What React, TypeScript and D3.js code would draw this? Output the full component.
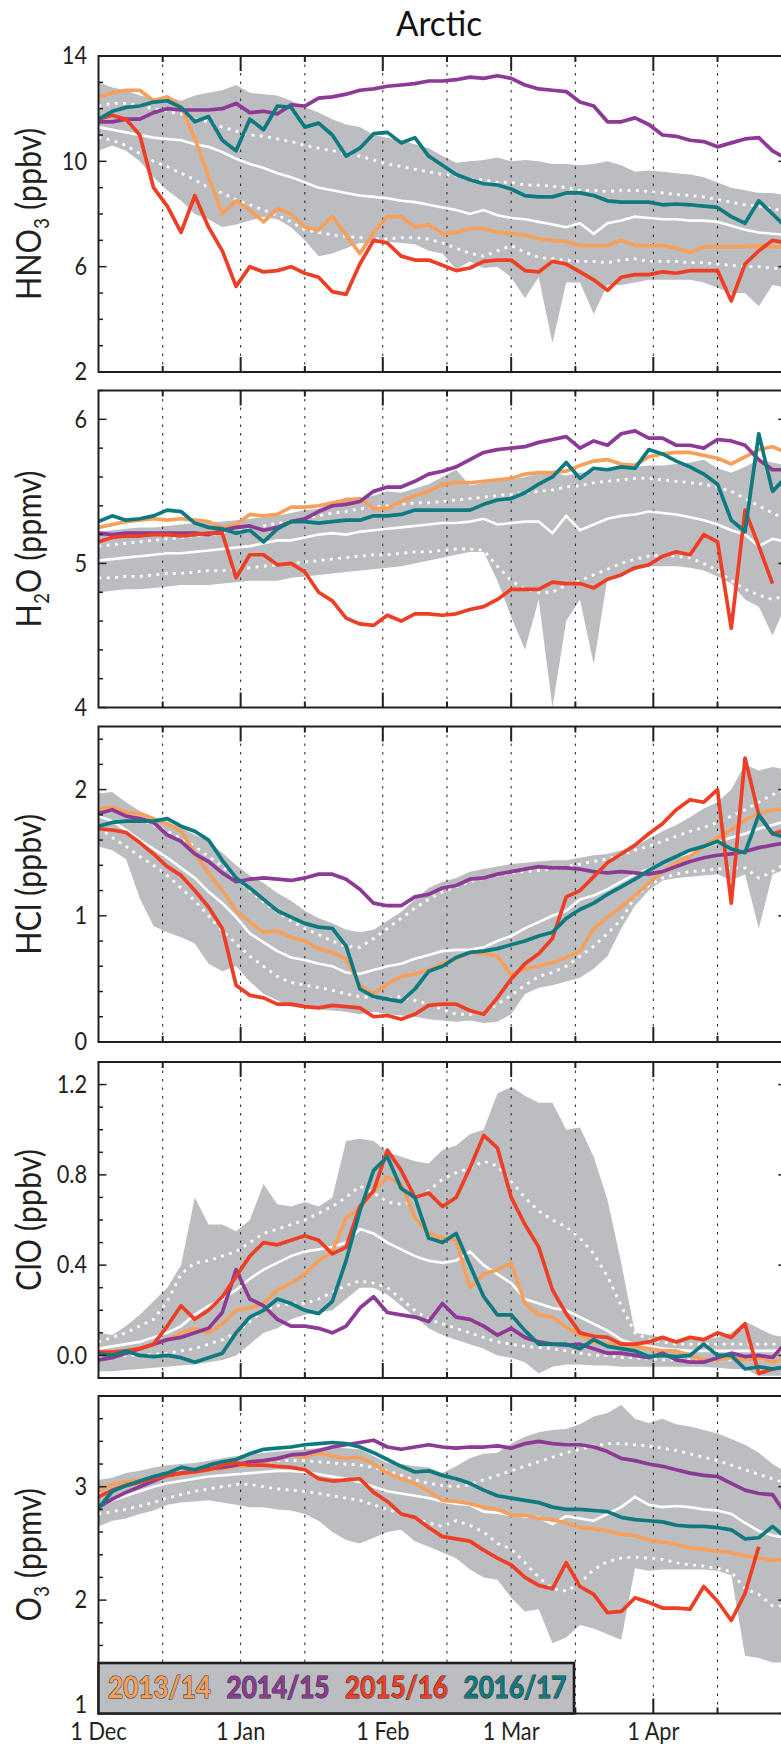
import React from 'react';
import * as d3 from 'd3';

// x grid: days since 1 Dec, every 3 days
const DAYS = [0,3,6,9,12,15,18,21,24,27,30,33,36,39,42,45,48,51,54,57,60,63,66,69,72,75,78,81,84,87,90,93,96,99,102,105,108,111,114,117,120,123,126,129,132,135,138,141,144,147,150];

const MONTH_DAYS = [0, 31, 62, 90, 121];
const MONTH_LABELS = ['1 Dec', '1 Jan', '1 Feb', '1 Mar', '1 Apr'];
const MID_DAYS = [14, 45, 76, 104, 135];

const YEARS = ['2013/14', '2014/15', '2015/16', '2016/17'];
const YEAR_COLORS = ['#f7a05c', '#8d3a96', '#ee3f26', '#0e7a80'];

// ---- HNO3 (ppbv)
const HNO3_1314 = [12.45,12.6,12.7,12.7,12.3,12.45,12.07,10.87,9.4,8.0,8.5,8.15,7.7,8.2,8.0,7.5,7.4,7.9,7.2,6.5,7.3,7.9,7.9,7.5,7.6,7.25,7.3,7.45,7.45,7.3,7.25,7.2,7.05,7.0,6.95,6.8,6.8,6.8,7.0,6.8,6.8,6.8,6.7,6.55,6.75,6.75,6.75,6.75,6.8,6.75,6.75];
const HNO3_1415 = [11.5,11.5,11.6,11.6,11.85,12.0,11.95,11.95,11.95,12.0,12.2,11.85,11.9,11.8,12.15,12.1,12.4,12.45,12.55,12.7,12.75,12.85,12.9,12.95,13.05,13.05,13.1,13.2,13.15,13.25,13.15,12.9,12.75,12.7,12.65,12.25,12.1,11.5,11.5,11.65,11.4,11.0,10.95,10.8,10.75,10.55,10.7,10.85,10.9,10.4,10.1];
const HNO3_1516 = [11.6,11.75,11.6,11.0,9.0,8.3,7.3,8.7,7.5,6.6,5.25,6.0,5.8,5.85,6.0,5.75,5.6,5.05,4.95,6.1,7.0,6.9,6.4,6.25,6.25,6.05,5.85,5.95,6.2,6.25,6.25,5.85,5.8,6.2,6.1,5.8,5.5,5.1,5.6,5.7,5.7,5.8,5.75,5.85,5.85,5.85,4.7,6.1,6.6,7.0,6.9];
const HNO3_1617 = [11.6,11.9,12.05,12.1,12.25,12.3,12.05,11.5,11.7,10.8,10.4,11.6,11.2,12.1,12.05,11.3,11.45,11.0,10.2,10.5,11.05,11.1,10.7,10.9,10.2,9.85,9.5,9.3,9.15,9.1,8.95,8.7,8.65,8.65,8.8,8.8,8.7,8.5,8.45,8.45,8.45,8.35,8.38,8.35,8.3,8.25,7.9,7.65,8.5,8.0,7.5];
const HNO3_MEAN = [11.3,11.2,11.1,11.0,10.9,10.85,10.8,10.65,10.55,10.35,10.1,9.9,9.75,9.55,9.4,9.2,9.0,8.9,8.8,8.7,8.65,8.6,8.5,8.45,8.35,8.25,8.15,8.0,8.15,7.95,7.85,7.8,7.7,7.6,7.5,7.65,7.25,7.65,7.75,7.9,7.85,7.8,7.8,7.75,7.75,7.7,7.55,7.4,7.3,7.25,7.2];
const HNO3_SD_HI = [12.1,12.2,12.2,12.1,12.0,11.9,11.8,11.6,11.5,11.3,11.15,11.0,10.95,10.85,10.75,10.6,10.5,10.4,10.3,10.2,10.05,9.9,9.8,9.7,9.6,9.5,9.45,9.3,9.3,9.2,9.2,9.1,9.1,9.05,9.0,8.9,8.9,8.85,8.9,8.9,8.85,8.8,8.75,8.7,8.65,8.55,8.45,8.35,8.3,8.2,8.1];
const HNO3_SD_LO = [10.9,10.8,10.6,10.3,10.0,9.8,9.55,9.3,9.0,8.8,8.55,8.35,8.15,7.95,7.7,7.4,7.3,7.2,7.15,7.1,7.05,7.05,7.1,7.1,7.05,6.9,6.7,6.5,6.4,6.6,6.8,6.55,6.35,6.3,6.25,6.2,6.2,6.15,6.25,6.3,6.2,6.2,6.2,6.15,6.15,6.1,6.05,6.0,6.0,5.95,5.9];
const HNO3_MAX = [13.0,12.8,12.7,12.5,12.4,12.45,12.3,12.5,12.6,12.7,12.9,12.6,12.55,12.5,12.3,12.05,11.85,11.6,11.4,11.3,11.0,10.9,10.8,10.65,10.5,10.2,9.95,10.0,10.05,10.15,10.0,10.05,10.0,9.9,9.9,9.85,9.9,10.0,9.85,9.6,9.65,9.6,9.55,9.5,9.4,9.2,9.0,8.9,8.8,8.8,8.7];
const HNO3_MIN = [10.4,10.6,10.4,10.0,9.4,8.9,8.5,8.0,7.8,7.5,7.6,7.75,7.9,7.8,7.5,7.0,6.4,6.5,6.7,6.9,6.9,6.95,6.9,6.85,6.6,6.5,5.9,6.2,5.95,6.0,5.6,4.8,5.6,3.1,5.4,5.4,4.2,5.3,5.3,5.4,5.5,5.5,5.5,5.5,5.4,5.2,5.0,5.0,4.5,5.3,5.2];

// ---- H2O (ppmv)
const H2O_1314 = [5.25,5.27,5.29,5.3,5.31,5.3,5.31,5.3,5.29,5.25,5.27,5.34,5.33,5.34,5.39,5.39,5.4,5.42,5.44,5.45,5.38,5.38,5.43,5.47,5.5,5.55,5.56,5.56,5.57,5.58,5.59,5.62,5.63,5.63,5.64,5.68,5.71,5.72,5.69,5.68,5.74,5.76,5.77,5.77,5.75,5.73,5.69,5.74,5.79,5.81,5.77];
const H2O_1415 = [5.21,5.2,5.21,5.21,5.21,5.21,5.21,5.21,5.2,5.23,5.25,5.26,5.23,5.25,5.29,5.31,5.36,5.4,5.41,5.43,5.5,5.53,5.53,5.57,5.62,5.64,5.67,5.72,5.77,5.79,5.8,5.81,5.84,5.86,5.88,5.8,5.85,5.82,5.9,5.92,5.87,5.87,5.82,5.82,5.8,5.86,5.85,5.82,5.72,5.65,5.65];
const H2O_1516 = [5.15,5.18,5.19,5.19,5.2,5.2,5.19,5.2,5.21,5.21,4.9,5.06,5.06,4.99,5.0,4.94,4.8,4.74,4.62,4.58,4.57,4.64,4.6,4.65,4.65,4.64,4.65,4.68,4.7,4.75,4.82,4.82,4.82,4.87,4.86,4.86,4.83,4.89,4.92,4.97,4.99,5.05,5.08,5.06,5.2,5.15,4.55,5.37,5.12,4.86,null];
const H2O_1617 = [5.29,5.33,5.3,5.31,5.33,5.37,5.36,5.28,5.25,5.24,5.21,5.23,5.15,5.24,5.29,5.29,5.28,5.29,5.3,5.3,5.33,5.33,5.34,5.37,5.37,5.37,5.37,5.37,5.41,5.44,5.45,5.49,5.55,5.6,5.7,5.59,5.66,5.65,5.67,5.66,5.79,5.76,5.71,5.67,5.62,5.55,5.3,5.22,5.9,5.5,5.6];
const H2O_MEAN = [5.02,5.03,5.04,5.05,5.06,5.07,5.07,5.08,5.09,5.1,5.11,5.12,5.14,5.16,5.16,5.18,5.2,5.21,5.2,5.22,5.23,5.24,5.25,5.26,5.27,5.28,5.28,5.29,5.31,5.27,5.28,5.29,5.29,5.21,5.33,5.23,5.27,5.31,5.33,5.34,5.36,5.35,5.34,5.32,5.3,5.27,5.23,5.2,5.12,5.17,5.15];
const H2O_SD_HI = [5.12,5.13,5.14,5.15,5.16,5.17,5.18,5.19,5.2,5.21,5.22,5.24,5.26,5.28,5.29,5.31,5.33,5.35,5.36,5.38,5.39,5.4,5.41,5.42,5.42,5.43,5.44,5.45,5.46,5.47,5.48,5.49,5.5,5.51,5.53,5.54,5.56,5.57,5.58,5.59,5.59,5.58,5.57,5.56,5.55,5.53,5.5,5.45,5.4,5.35,5.3];
const H2O_SD_LO = [4.9,4.9,4.91,4.91,4.92,4.93,4.93,4.94,4.95,4.95,4.96,4.97,4.98,4.99,5.0,5.01,5.02,5.03,5.04,5.05,5.06,5.06,5.07,5.08,5.08,5.09,5.1,5.1,5.09,4.98,4.88,4.82,4.8,4.8,4.85,4.88,4.92,4.96,5.0,5.03,5.05,5.06,5.05,5.04,5.0,4.95,4.88,4.82,4.78,4.75,4.78];
const H2O_MAX = [5.22,5.23,5.24,5.25,5.25,5.26,5.27,5.28,5.28,5.29,5.3,5.31,5.32,5.33,5.35,5.37,5.38,5.42,5.46,5.45,5.47,5.5,5.49,5.52,5.55,5.6,5.65,5.54,5.56,5.58,5.58,5.6,5.62,5.63,5.61,5.63,5.64,5.65,5.66,5.67,5.68,5.68,5.69,5.7,5.72,5.66,5.63,5.67,5.72,5.7,5.68];
const H2O_MIN = [4.8,4.81,4.82,4.82,4.83,4.84,4.85,4.85,4.85,4.86,4.87,4.88,4.88,4.88,4.9,4.91,4.92,4.93,4.94,4.95,4.96,4.97,4.98,5.0,5.02,5.04,5.06,5.08,5.08,4.88,4.63,4.4,4.75,4.0,4.6,4.75,4.3,4.9,4.92,4.95,4.98,4.98,4.98,4.97,4.95,4.91,4.86,4.75,4.7,4.5,4.72];

// ---- HCl (ppbv)
const HCL_1314 = [1.85,1.86,1.82,1.81,1.77,1.73,1.67,1.5,1.34,1.2,1.04,0.95,0.87,0.88,0.83,0.8,0.74,0.71,0.66,0.45,0.38,0.46,0.52,0.54,0.57,0.62,0.66,0.71,0.7,0.68,0.53,0.58,0.6,0.63,0.67,0.72,0.9,0.99,1.07,1.16,1.26,1.35,1.42,1.47,1.55,1.62,1.68,1.76,1.81,1.84,1.85];
const HCL_1415 = [1.81,1.84,1.79,1.77,1.74,1.64,1.59,1.49,1.43,1.34,1.27,1.29,1.3,1.29,1.28,1.3,1.33,1.33,1.29,1.21,1.1,1.08,1.08,1.15,1.17,1.22,1.24,1.29,1.3,1.33,1.35,1.37,1.39,1.38,1.38,1.37,1.35,1.34,1.35,1.34,1.33,1.35,1.39,1.43,1.46,1.48,1.49,1.51,1.54,1.56,1.58];
const HCL_1516 = [1.69,1.68,1.66,1.58,1.49,1.39,1.32,1.2,1.07,0.9,0.45,0.37,0.35,0.3,0.3,0.28,0.27,0.29,0.28,0.27,0.2,0.21,0.18,0.22,0.29,0.3,0.3,0.25,0.22,0.35,0.5,0.62,0.7,0.82,1.15,1.2,1.31,1.42,1.49,1.56,1.65,1.73,1.84,1.92,1.9,2.0,1.1,2.25,1.8,1.65,1.68];
const HCL_1617 = [1.71,1.74,1.75,1.75,1.75,1.77,1.71,1.67,1.6,1.44,1.3,1.22,1.13,1.04,0.99,0.94,0.91,0.9,0.76,0.42,0.36,0.34,0.32,0.42,0.56,0.6,0.67,0.71,0.72,0.74,0.77,0.8,0.84,0.87,0.98,1.05,1.1,1.17,1.23,1.29,1.36,1.42,1.47,1.52,1.55,1.59,1.53,1.5,1.8,1.65,1.62];
const HCL_MEAN = [1.79,1.75,1.68,1.6,1.53,1.46,1.38,1.3,1.19,1.1,0.99,0.86,0.79,0.72,0.67,0.65,0.62,0.6,0.55,0.54,0.57,0.6,0.62,0.66,0.69,0.72,0.73,0.73,0.75,0.8,0.84,0.9,0.95,1.0,1.04,1.13,1.16,1.21,1.27,1.33,1.37,1.42,1.47,1.5,1.54,1.58,1.62,1.65,1.69,1.72,1.75];
const HCL_SD_HI = [1.86,1.84,1.81,1.77,1.72,1.67,1.61,1.55,1.47,1.39,1.3,1.2,1.11,1.03,0.96,0.9,0.85,0.8,0.76,0.75,0.82,0.9,0.98,1.06,1.13,1.19,1.23,1.27,1.3,1.32,1.34,1.35,1.36,1.37,1.39,1.41,1.43,1.45,1.48,1.52,1.55,1.59,1.63,1.67,1.7,1.74,1.79,1.84,1.9,1.96,2.0];
const HCL_SD_LO = [1.7,1.62,1.55,1.47,1.4,1.32,1.22,1.12,1.0,0.88,0.78,0.68,0.6,0.52,0.47,0.45,0.43,0.41,0.38,0.36,0.35,0.34,0.36,0.33,0.3,0.26,0.22,0.22,0.24,0.3,0.37,0.45,0.52,0.55,0.6,0.68,0.76,0.86,0.97,1.15,1.24,1.3,1.33,1.35,1.36,1.37,1.38,1.38,1.3,1.35,1.42];
const HCL_MAX = [1.97,1.98,1.9,1.83,1.78,1.74,1.7,1.64,1.59,1.5,1.4,1.32,1.26,1.18,1.12,1.04,0.98,0.94,0.89,0.87,0.89,0.96,1.03,1.13,1.22,1.27,1.3,1.35,1.37,1.39,1.41,1.42,1.43,1.44,1.44,1.46,1.48,1.49,1.52,1.55,1.61,1.67,1.72,1.78,1.85,1.9,2.0,2.2,2.15,2.18,2.16];
const HCL_MIN = [1.55,1.52,1.45,1.14,0.92,0.87,0.83,0.78,0.62,0.56,0.6,0.48,0.38,0.33,0.28,0.27,0.26,0.25,0.24,0.22,0.24,0.22,0.21,0.2,0.18,0.17,0.16,0.17,0.15,0.16,0.22,0.38,0.43,0.45,0.48,0.51,0.58,0.68,0.9,1.08,1.2,1.28,1.3,1.31,1.32,1.33,1.28,1.33,0.9,1.33,1.37];

// ---- ClO (ppbv)
const CLO_1314 = [0.015,0.015,0.02,0.03,0.05,0.07,0.1,0.12,0.1,0.14,0.2,0.21,0.23,0.29,0.32,0.36,0.42,0.46,0.61,0.65,0.73,0.79,0.76,0.61,0.54,0.52,0.51,0.3,0.36,0.38,0.41,0.23,0.18,0.17,0.125,0.09,0.06,0.05,0.05,0.04,0.03,0.02,0.02,0.0,-0.02,-0.02,-0.01,-0.02,-0.01,-0.03,-0.01];
const CLO_1415 = [-0.02,-0.01,0.01,0.03,0.05,0.07,0.08,0.1,0.12,0.19,0.38,0.25,0.22,0.16,0.13,0.13,0.12,0.1,0.13,0.21,0.26,0.19,0.18,0.17,0.15,0.23,0.17,0.16,0.13,0.09,0.12,0.08,0.06,0.05,0.045,0.05,0.03,0.01,0.01,0.0,-0.01,0.01,-0.02,-0.03,-0.03,-0.01,0.01,-0.005,0.0,-0.01,0.06];
const CLO_1516 = [0.015,0.015,0.02,0.03,0.05,0.13,0.22,0.16,0.2,0.26,0.35,0.44,0.5,0.49,0.51,0.53,0.51,0.45,0.48,0.66,0.73,0.91,0.82,0.7,0.72,0.66,0.7,0.83,0.975,0.92,0.7,0.58,0.48,0.29,0.185,0.1,0.085,0.08,0.05,0.05,0.06,0.08,0.06,0.08,0.07,0.1,0.08,0.14,-0.08,-0.06,-0.05];
const CLO_1617 = [0.007,0.0,0.02,0.0,-0.005,0.0,-0.01,-0.03,-0.01,0.01,0.1,0.17,0.2,0.25,0.23,0.2,0.185,0.24,0.42,0.64,0.82,0.88,0.74,0.7,0.52,0.5,0.54,0.4,0.26,0.18,0.18,0.11,0.05,0.05,0.05,0.03,0.07,0.04,0.03,0.02,-0.005,0.0,-0.005,0.0,0.05,0.0,0.0,-0.06,-0.05,-0.06,-0.05];
const CLO_MEAN = [0.03,0.04,0.05,0.06,0.08,0.1,0.13,0.18,0.22,0.25,0.29,0.34,0.38,0.41,0.44,0.46,0.47,0.48,0.5,0.56,0.54,0.5,0.47,0.44,0.42,0.41,0.42,0.46,0.4,0.36,0.32,0.25,0.23,0.21,0.2,0.17,0.14,0.11,0.07,0.05,0.04,0.03,0.025,0.02,0.02,0.02,0.02,0.02,0.02,0.02,0.02];
const CLO_SD_HI = [0.06,0.08,0.1,0.13,0.16,0.24,0.36,0.41,0.42,0.44,0.46,0.5,0.54,0.56,0.58,0.6,0.63,0.66,0.7,0.75,0.72,0.68,0.67,0.68,0.73,0.78,0.81,0.83,0.86,0.84,0.77,0.7,0.64,0.6,0.57,0.52,0.45,0.35,0.22,0.1,0.07,0.06,0.05,0.05,0.05,0.05,0.05,0.05,0.05,0.05,0.05];
const CLO_SD_LO = [-0.01,-0.01,0.0,0.0,0.005,0.01,0.02,0.03,0.05,0.07,0.1,0.15,0.2,0.22,0.23,0.23,0.25,0.28,0.31,0.33,0.32,0.3,0.25,0.2,0.16,0.14,0.12,0.1,0.08,0.06,0.05,0.04,0.035,0.03,0.02,0.01,0.0,0.0,-0.01,-0.01,-0.015,-0.02,-0.02,-0.02,-0.02,-0.02,-0.02,-0.02,-0.02,-0.02,-0.02];
const CLO_MAX = [0.1,0.09,0.13,0.18,0.24,0.3,0.4,0.7,0.58,0.58,0.55,0.6,0.76,0.67,0.66,0.68,0.66,0.7,0.95,0.96,0.95,0.9,0.88,0.86,0.85,0.91,0.93,0.98,1.0,1.16,1.19,1.15,1.12,1.12,1.0,1.01,0.88,0.69,0.41,0.1,0.09,0.08,0.07,0.07,0.07,0.08,0.1,0.15,0.12,0.09,0.08];
const CLO_MIN = [-0.07,-0.07,-0.065,-0.06,-0.055,-0.05,-0.045,-0.04,-0.03,-0.02,0.0,0.05,0.1,0.12,0.16,0.18,0.19,0.2,0.25,0.3,0.3,0.27,0.22,0.17,0.12,0.09,0.07,0.05,0.03,0.0,-0.01,-0.03,-0.08,-0.05,-0.04,-0.04,-0.045,-0.045,-0.05,-0.05,-0.05,-0.05,-0.05,-0.05,-0.05,-0.055,-0.06,-0.06,-0.09,-0.09,-0.09];

// ---- O3 (ppmv)
const O3_1314 = [2.97,3.02,3.04,3.06,3.08,3.09,3.11,3.13,3.15,3.16,3.18,3.19,3.22,3.24,3.28,3.26,3.3,3.27,3.25,3.26,3.2,3.12,3.07,3.03,2.96,2.88,2.87,2.85,2.82,2.8,2.75,2.75,2.72,2.71,2.68,2.64,2.63,2.61,2.58,2.57,2.53,2.51,2.49,2.46,2.45,2.43,2.42,2.39,2.37,2.35,2.36];
const O3_1415 = [2.82,2.89,2.95,3.0,3.05,3.1,3.12,3.14,3.16,3.17,3.19,3.22,3.23,3.25,3.28,3.29,3.32,3.35,3.37,3.39,3.41,3.35,3.33,3.35,3.37,3.35,3.34,3.35,3.35,3.36,3.34,3.38,3.4,3.38,3.37,3.37,3.35,3.31,3.25,3.23,3.2,3.18,3.15,3.12,3.1,3.09,3.03,2.97,2.94,2.93,2.75];
const O3_1516 = [2.91,2.97,3.01,3.04,3.07,3.1,3.12,3.13,3.15,3.19,3.21,3.19,3.19,3.18,3.17,3.15,3.07,3.05,3.06,3.07,2.95,2.87,2.76,2.73,2.64,2.56,2.54,2.52,2.44,2.37,2.31,2.2,2.13,2.1,2.33,2.12,2.05,1.89,1.9,2.02,1.98,1.93,1.93,1.92,2.12,1.99,1.82,2.06,2.47,null,null];
const O3_1617 = [2.81,2.96,3.01,3.05,3.09,3.12,3.17,3.15,3.19,3.22,3.24,3.29,3.33,3.34,3.35,3.37,3.38,3.39,3.38,3.35,3.3,3.24,3.18,3.13,3.14,3.1,3.07,3.03,2.97,2.92,2.9,2.88,2.86,2.82,2.8,2.8,2.79,2.78,2.73,2.71,2.7,2.69,2.66,2.65,2.65,2.64,2.62,2.54,2.55,2.65,2.55];
const O3_MEAN = [2.83,2.88,2.92,2.96,3.0,3.03,3.05,3.07,3.09,3.1,3.11,3.12,3.13,3.14,3.14,3.13,3.11,3.09,3.07,3.04,3.0,2.96,2.94,2.92,2.9,2.87,2.85,2.84,2.78,2.77,2.75,2.74,2.73,2.67,2.74,2.72,2.7,2.76,2.82,2.91,2.84,2.82,2.83,2.82,2.8,2.79,2.76,2.68,2.61,2.57,2.55];
const O3_SD_HI = [2.93,2.97,3.01,3.05,3.08,3.11,3.13,3.15,3.17,3.19,3.2,3.21,3.22,3.23,3.23,3.23,3.22,3.21,3.2,3.19,3.17,3.14,3.1,3.06,3.03,3.01,3.0,3.02,3.06,3.1,3.14,3.18,3.22,3.26,3.3,3.33,3.36,3.38,3.38,3.37,3.36,3.34,3.32,3.29,3.26,3.23,3.19,3.15,3.11,3.07,3.03];
const O3_SD_LO = [2.76,2.78,2.8,2.83,2.86,2.9,2.93,2.96,2.98,3.0,3.02,3.02,3.0,2.98,2.97,2.96,2.94,2.92,2.9,2.88,2.84,2.8,2.76,2.72,2.68,2.65,2.7,2.66,2.6,2.5,2.45,2.33,2.2,2.1,2.08,2.15,2.27,2.34,2.37,2.38,2.37,2.36,2.33,2.31,2.3,2.28,2.25,2.1,2.05,1.95,1.95];
const O3_MAX = [3.06,3.08,3.12,3.14,3.17,3.19,3.2,3.21,3.23,3.25,3.27,3.28,3.3,3.31,3.32,3.33,3.34,3.35,3.34,3.33,3.27,3.21,3.2,3.18,3.17,3.12,3.18,3.25,3.29,3.3,3.38,3.44,3.48,3.5,3.51,3.55,3.62,3.65,3.72,3.6,3.56,3.6,3.55,3.53,3.5,3.47,3.42,3.37,3.3,3.2,3.13];
const O3_MIN = [2.65,2.7,2.72,2.76,2.79,2.84,2.86,2.87,2.88,2.86,2.84,2.82,2.82,2.8,2.79,2.76,2.7,2.6,2.53,2.5,2.55,2.6,2.62,2.52,2.47,2.42,2.37,2.27,2.2,2.18,2.02,1.9,1.92,1.62,1.67,1.78,1.75,1.7,1.65,2.28,2.26,2.27,2.27,2.27,2.27,2.26,2.22,1.51,1.49,1.45,1.45];

type Val = number | null;
type PanelCfg = {
  key: string;
  title: [string, boolean][]; // [text, isSubscript]
  domain: [number, number];
  step: number;
  labels: number[];
  fmt: (v: number) => string;
  years: Val[][];
  mean: Val[];
  sdHi: Val[];
  sdLo: Val[];
  max: number[];
  min: number[];
};

const PANELS: PanelCfg[] = [
  { key: 'hno3', title: [['HNO', false], ['3', true], [' (ppbv)', false]], domain: [2, 14], step: 1, labels: [2, 6, 10, 14], fmt: d3.format('d'),
    years: [HNO3_1314, HNO3_1415, HNO3_1516, HNO3_1617], mean: HNO3_MEAN, sdHi: HNO3_SD_HI, sdLo: HNO3_SD_LO, max: HNO3_MAX, min: HNO3_MIN },
  { key: 'h2o', title: [['H', false], ['2', true], ['O (ppmv)', false]], domain: [4, 6.2], step: 0.2, labels: [4, 5, 6], fmt: d3.format('d'),
    years: [H2O_1314, H2O_1415, H2O_1516, H2O_1617], mean: H2O_MEAN, sdHi: H2O_SD_HI, sdLo: H2O_SD_LO, max: H2O_MAX, min: H2O_MIN },
  { key: 'hcl', title: [['HCl (ppbv)', false]], domain: [0, 2.5], step: 0.2, labels: [0, 1, 2], fmt: d3.format('d'),
    years: [HCL_1314, HCL_1415, HCL_1516, HCL_1617], mean: HCL_MEAN, sdHi: HCL_SD_HI, sdLo: HCL_SD_LO, max: HCL_MAX, min: HCL_MIN },
  { key: 'clo', title: [['ClO (ppbv)', false]], domain: [-0.1, 1.3], step: 0.1, labels: [0, 0.4, 0.8, 1.2], fmt: d3.format('.1f'),
    years: [CLO_1314, CLO_1415, CLO_1516, CLO_1617], mean: CLO_MEAN, sdHi: CLO_SD_HI, sdLo: CLO_SD_LO, max: CLO_MAX, min: CLO_MIN },
  { key: 'o3', title: [['O', false], ['3', true], [' (ppmv)', false]], domain: [1, 3.8], step: 0.2, labels: [1, 2, 3], fmt: d3.format('d'),
    years: [O3_1314, O3_1415, O3_1516, O3_1617], mean: O3_MEAN, sdHi: O3_SD_HI, sdLo: O3_SD_LO, max: O3_MAX, min: O3_MIN },
];

const W = 781;
const H = 1745;
const LEFT = 98.5;
const RIGHT = 786.3;
const PANEL_TOP = [56, 390.5, 726.5, 1062, 1396];
const PANEL_BOTTOM = [372, 707.5, 1042, 1378, 1713.5];
const INK = '#231f20';
const BAND = '#bcbdc0';
const FONT = "Lato, 'Open Sans', sans-serif";
const SX = 0.87; // narrow the lettering a bit

const x = d3.scaleLinear().domain([0, 150]).range([LEFT, RIGHT]);

function Panel({ cfg, idx }: { cfg: PanelCfg; idx: number }) {
  const top = PANEL_TOP[idx];
  const bottom = PANEL_BOTTOM[idx];
  const y = d3.scaleLinear().domain(cfg.domain).range([bottom, top]);
  const isLast = idx === PANELS.length - 1;

  const area = d3.area<number>()
    .x((_, i) => x(DAYS[i]))
    .y0((_, i) => y(cfg.min[i]))
    .y1((d) => y(d));
  const line = d3.line<Val>()
    .defined((d) => d != null)
    .x((_, i) => x(DAYS[i]))
    .y((d) => y(d as number));

  const minor = d3.range(cfg.domain[0], cfg.domain[1] + 1e-6, cfg.step).map((v) => +v.toFixed(3));
  const isMajor = (v: number) => cfg.labels.some((l) => Math.abs(l - v) < 1e-6);
  const clipId = `clip-${cfg.key}`;
  const mid = (top + bottom) / 2;

  return (
    <g>
      <defs>
        <clipPath id={clipId}>
          <rect x={LEFT} y={top} width={RIGHT - LEFT} height={bottom - top} />
        </clipPath>
      </defs>
      <g clipPath={`url(#${clipId})`}>
        <path d={area(cfg.max) || ''} fill={BAND} />
        {[...MONTH_DAYS.slice(1), ...MID_DAYS].map((d) => (
          <line key={d} x1={x(d)} x2={x(d)} y1={top} y2={bottom}
            stroke={INK} strokeWidth={1} strokeDasharray="2.5 6" />
        ))}
        <path d={line(cfg.mean) || ''} fill="none" stroke="#fff" strokeWidth={2.6} />
        <path d={line(cfg.sdHi) || ''} fill="none" stroke="#fff" strokeWidth={2.8} strokeDasharray="2.8 5.5" />
        <path d={line(cfg.sdLo) || ''} fill="none" stroke="#fff" strokeWidth={2.8} strokeDasharray="2.8 5.5" />
        {cfg.years.map((s, i) => (
          <path key={i} d={line(s) || ''} fill="none" stroke={YEAR_COLORS[i]}
            strokeWidth={3.7} strokeLinejoin="round" />
        ))}
      </g>

      {/* frame */}
      <rect x={LEFT} y={top} width={RIGHT - LEFT} height={bottom - top}
        fill="none" stroke={INK} strokeWidth={2} />

      {/* x ticks, inside top and bottom */}
      {MONTH_DAYS.slice(1).map((d) => (
        <g key={`m${d}`} stroke={INK} strokeWidth={2}>
          <line x1={x(d)} x2={x(d)} y1={top} y2={top + 15} />
          <line x1={x(d)} x2={x(d)} y1={bottom} y2={bottom - 15} />
        </g>
      ))}
      {MID_DAYS.map((d) => (
        <g key={`h${d}`} stroke={INK} strokeWidth={2}>
          <line x1={x(d)} x2={x(d)} y1={top} y2={top + 6} />
          <line x1={x(d)} x2={x(d)} y1={bottom} y2={bottom - 6} />
        </g>
      ))}

      {/* y ticks, both sides */}
      {minor.map((v) => {
        const len = isMajor(v) ? 8 : 4.5;
        return (
          <g key={`y${v}`} stroke={INK} strokeWidth={1.5}>
            <line x1={LEFT} x2={LEFT + len} y1={y(v)} y2={y(v)} />
            <line x1={RIGHT} x2={RIGHT - len} y1={y(v)} y2={y(v)} />
          </g>
        );
      })}
      {cfg.labels.map((v, i) => {
        const lift = isLast && i === 0 ? -9 : 0;
        return (
          <g key={`l${v}`} transform={`translate(87,${y(v) + lift}) scale(${SX},1)`}>
            <text textAnchor="end" dy="0.33em" fontSize={25} fontFamily={FONT} fill={INK}>
              {cfg.fmt(v)}
            </text>
          </g>
        );
      })}

      {/* axis title */}
      <g transform={`translate(41,${mid}) rotate(-90) scale(0.9,1)`}>
        <text textAnchor="middle" fontSize={34} fontFamily={FONT} fill={INK}>
          {cfg.title.map(([t, sub], i) => {
            const prevSub = i > 0 && cfg.title[i - 1][1];
            return (
              <tspan key={i} fontSize={sub ? 21 : 34} dy={sub ? 8 : prevSub ? -8 : 0}>{t}</tspan>
            );
          })}
        </text>
      </g>
    </g>
  );
}

function Legend() {
  const top = 1663;
  const bottom = PANEL_BOTTOM[PANEL_BOTTOM.length - 1];
  const left = LEFT;
  const right = 574;
  const centers = d3.scalePoint<string>().domain(YEARS).range([159.5, 515]);
  return (
    <g>
      <rect x={left} y={top} width={right - left} height={bottom - top}
        fill={BAND} stroke={INK} strokeWidth={2.6} />
      {YEARS.map((yr, i) => (
        <text key={yr} x={centers(yr)} y={1698} textAnchor="middle" fontSize={30}
          fontWeight={700} fontFamily={FONT} fill={YEAR_COLORS[i]}
          stroke="#3a3333" strokeWidth={1.2} paintOrder="stroke"
          textLength={103} lengthAdjust="spacingAndGlyphs">
          {yr}
        </text>
      ))}
    </g>
  );
}

export default function App() {
  return (
    <svg width={W} height={H} viewBox={`0 0 ${W} ${H}`}
      style={{ position: 'absolute', left: 0, top: 0, display: 'block', background: '#fff' }}>
      <rect width={W} height={H} fill="#fff" />
      <text x={439} y={36} textAnchor="middle" fontSize={34} fontFamily={FONT} fill="#111"
        textLength={86} lengthAdjust="spacingAndGlyphs">Arctic</text>
      {PANELS.map((p, i) => <Panel key={p.key} cfg={p} idx={i} />)}
      <Legend />
      {MONTH_DAYS.map((d, i) => (
        <g key={d} transform={`translate(${x(d)},1740) scale(${SX},1)`}>
          <text textAnchor="middle" fontSize={25} fontFamily={FONT} fill={INK}>{MONTH_LABELS[i]}</text>
        </g>
      ))}
    </svg>
  );
}
